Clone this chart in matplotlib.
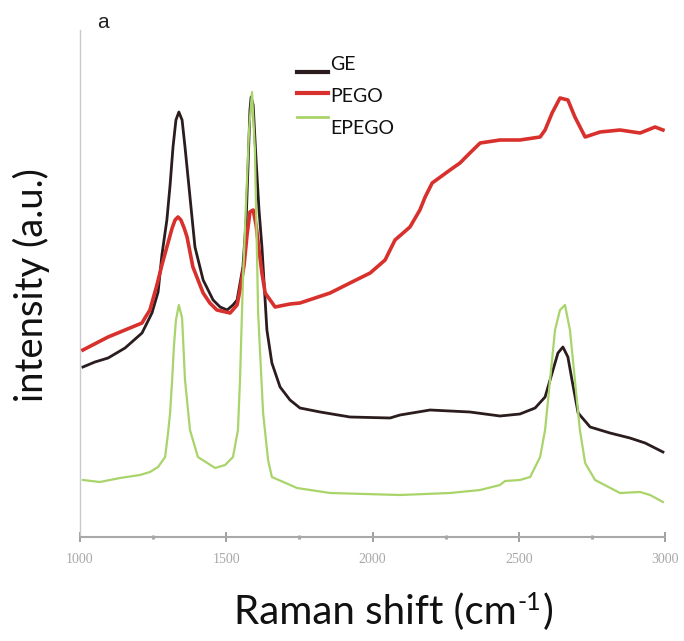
import matplotlib
matplotlib.use("Agg")
import matplotlib.pyplot as plt
from matplotlib.lines import Line2D

# ---- data ----
ge_x = [1010, 1051, 1096, 1154, 1212, 1246, 1267, 1280, 1297, 1308, 1318, 1328, 1338, 1349, 1359,
        1376, 1393, 1421, 1455, 1479, 1503, 1523, 1537, 1557, 1568, 1574, 1581, 1585, 1592, 1602,
        1612, 1622, 1639, 1656, 1684, 1718, 1752, 1821, 1923, 2060, 2094, 2197, 2333, 2436, 2504,
        2556, 2590, 2614, 2634, 2651, 2668, 2682, 2703, 2744, 2812, 2880, 2932, 2993]
ge_y = [170, 175, 179, 189, 204, 224, 245, 282, 317, 352, 390, 417, 425, 417, 390,
        340, 290, 257, 237, 230, 227, 232, 237, 270, 317, 367, 427, 440, 432, 377,
        327, 290, 207, 174, 150, 137, 129, 125, 120, 119, 122, 127, 125, 121, 123,
        129, 140, 164, 184, 190, 180, 157, 124, 110, 104, 99, 94, 85]

pego_x = [1010, 1096, 1154, 1212, 1222, 1239, 1263, 1280, 1297, 1315, 1325, 1335, 1345, 1356, 1366,
          1386, 1421, 1444, 1468, 1513, 1537, 1547, 1561, 1571, 1581, 1592, 1602, 1612, 1622, 1633,
          1667, 1718, 1752, 1855, 1923, 1992, 2043, 2077, 2128, 2162, 2180, 2204, 2265, 2299, 2333,
          2368, 2436, 2504, 2573, 2590, 2614, 2641, 2668, 2692, 2727, 2778, 2846, 2915, 2966, 2993]
pego_y = [187, 200, 207, 214, 219, 227, 252, 272, 290, 309, 317, 320, 317, 309, 300,
          270, 244, 234, 227, 224, 232, 247, 272, 302, 325, 327, 312, 287, 264, 244,
          230, 233, 234, 244, 254, 264, 277, 297, 310, 327, 340, 354, 367, 374, 384,
          394, 397, 397, 400, 407, 424, 439, 437, 420, 400, 405, 407, 404, 410, 407]

epego_x = [1010, 1068, 1137, 1205, 1239, 1267, 1291, 1301, 1308, 1315, 1321, 1328, 1338, 1349, 1359,
           1376, 1403, 1462, 1496, 1523, 1540, 1547, 1557, 1568, 1578, 1588, 1598, 1609, 1626, 1643,
           1656, 1742, 1855, 2094, 2265, 2368, 2436, 2453, 2504, 2539, 2573, 2590, 2607, 2624, 2641,
           2658, 2675, 2692, 2709, 2727, 2761, 2846, 2915, 2949, 2993]
epego_y = [57, 55, 59, 62, 65, 70, 80, 104, 124, 157, 190, 217, 232, 219, 157,
           107, 80, 69, 72, 80, 107, 157, 257, 337, 407, 445, 387, 224, 124, 77,
           60, 49, 44, 42, 44, 47, 52, 56, 57, 60, 80, 107, 157, 207, 227,
           232, 207, 157, 107, 74, 57, 44, 45, 42, 35]

series_labels = ["GE", "PEGO", "EPEGO"]
xticks = [1000, 1500, 2000, 2500, 3000]
xtick_labels = ["1000", "1500", "2000", "2500", "3000"]

# ---- styles ----
c_ge = "#2b1c1e"
c_pego = "#d8302c"
c_epego = "#a9d46a"

W, H = 684, 641
fig = plt.figure(figsize=(W / 100, H / 100), dpi=100)
fig.patch.set_facecolor("white")
ax = fig.add_axes([80 / W, 1 - 537 / H, (665 - 80) / W, (537 - 30) / H])

ax.plot(ge_x, ge_y, color=c_ge, lw=2.0, zorder=2)
ax.plot(pego_x, pego_y, color=c_pego, lw=2.6, zorder=3)
ax.plot(epego_x, epego_y, color=c_epego, lw=1.6, zorder=4)

ax.set_xlim(1000, 3000)
ax.set_ylim(0, 507)
ax.set_yticks([])
ax.set_xticks(xticks)
ax.set_xticklabels(xtick_labels, fontfamily="Liberation Serif", fontsize=10, color="#a8a8a8")
ax.set_xticks([1250, 1750, 2250, 2750], minor=True)
ax.tick_params(axis="x", which="major", direction="inout", length=7, width=1.2, color="#909090", pad=8)
ax.tick_params(axis="x", which="minor", direction="inout", length=3, width=2, color="#a0a0a0")
for s in ["top", "right"]:
    ax.spines[s].set_visible(False)
ax.spines["left"].set_color("#c8c8d0")
ax.spines["left"].set_linewidth(1.0)
ax.spines["bottom"].set_color("#a8a8a8")
ax.spines["bottom"].set_linewidth(1.5)

# legend (manual)
leg_colors = [c_ge, c_pego, c_epego]
leg_lw = [3.0, 3.0, 2.0]
leg_line_y = [72, 93, 117]
leg_text_y = [64, 97, 128]
for lab, col, lw, ly, ty in zip(series_labels, leg_colors, leg_lw, leg_line_y, leg_text_y):
    fig.add_artist(Line2D([297 / W, 328 / W], [1 - ly / H, 1 - ly / H], color=col, lw=lw,
                          transform=fig.transFigure))
    fig.text(330 / W, 1 - ty / H, lab, fontfamily="Lato", fontsize=14, color="#111111",
             ha="left", va="center")

fig.text(103 / W, 1 - 22 / H, "a", fontfamily="Liberation Sans", fontsize=15, color="#222222",
         ha="center", va="center")

# x label built from pieces so the superscript uses a plain hyphen
renderer = fig.canvas.get_renderer()
fs = 29
base_y = 1 - 624 / H
x0 = 234 / W
t1 = fig.text(x0, base_y, "Raman shift (cm", fontfamily="Lato", fontsize=fs,
              color="#111111", ha="left", va="baseline")
w1 = t1.get_window_extent(renderer).width / W
t2 = fig.text(x0 + w1 + 1 / W, base_y + 14 / H, "-1", fontfamily="Lato", fontsize=fs * 0.62,
              color="#111111", ha="left", va="baseline")
w2 = t2.get_window_extent(renderer).width / W
fig.text(x0 + w1 + w2 + 2 / W, base_y, ")", fontfamily="Lato", fontsize=fs,
         color="#111111", ha="left", va="baseline")

fig.text(31 / W, 1 - 285 / H, "intensity (a.u.)", fontfamily="Lato", fontsize=27.5,
         color="#111111", ha="center", va="center", rotation=90)

fig.savefig("out.png", dpi=100, facecolor="white")
